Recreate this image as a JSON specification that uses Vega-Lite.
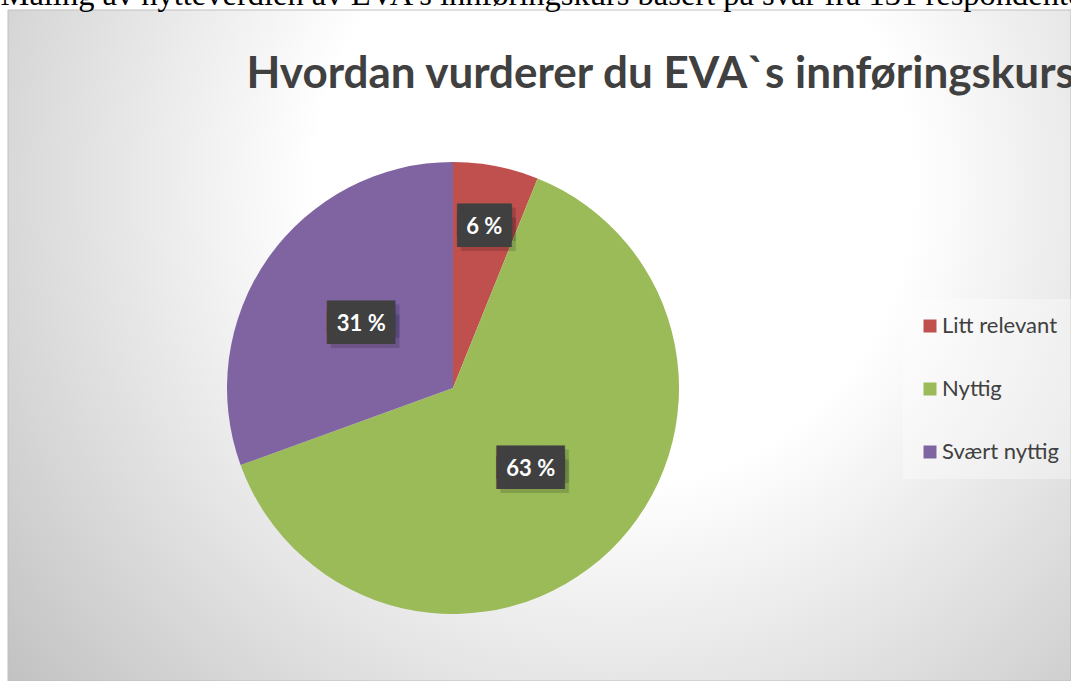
{
  "$schema": "https://vega.github.io/schema/vega-lite/v6.json",
  "width": 1063,
  "height": 671,
  "autosize": {"type": "none"},
  "padding": {"left": 8, "top": 10, "right": 0, "bottom": 0},
  "background": "#ffffff",
  "title": {
    "text": "Måling av nytteverdien av EVA's innføringskurs basert på svar fra 131 respondenter",
    "subtitle": "\u200b\u00a0\u00a0\u00a0\u00a0\u00a0\u00a0\u00a0\u00a0\u00a0\u00a0\u00a0\u00a0\u00a0\u00a0\u00a0\u00a0\u00a0\u00a0\u00a0\u00a0\u00a0\u00a0\u00a0Hvordan vurderer du EVA`s innføringskurs",
    "anchor": "start",
    "frame": "group",
    "dx": -7.5,
    "offset": -87,
    "font": "Liberation Serif",
    "fontSize": 32.5,
    "fontWeight": "normal",
    "color": "#000000",
    "subtitleFont": "Lato",
    "subtitleFontSize": 44,
    "subtitleFontWeight": "bold",
    "subtitleColor": "#404040",
    "subtitlePadding": 41
  },
  "config": {"view": {"stroke": null}},
  "layer": [
    {
      "data": {"values": [{}]},
      "mark": {
        "type": "rect",
        "stroke": "#bfbfbf",
        "strokeWidth": 1,
        "fill": {
          "gradient": "radial",
          "x1": 0.57, "y1": 0.35, "r1": 0,
          "x2": 0.57, "y2": 0.35, "r2": 0.78,
          "stops": [
            {"offset": 0, "color": "#ffffff"},
            {"offset": 0.36, "color": "#ffffff"},
            {"offset": 1, "color": "#bcbcbc"}
          ]
        }
      },
      "encoding": {}
    },
    {
      "data": {
        "values": [
          {"Kategori": "Litt relevant", "n": 8},
          {"Kategori": "Nyttig", "n": 83},
          {"Kategori": "Svært nyttig", "n": 40}
        ]
      },
      "transform": [
        {"joinaggregate": [{"op": "sum", "field": "n", "as": "total"}]},
        {"stack": "n", "groupby": [], "offset": "normalize", "sort": [{"field": "Kategori", "order": "ascending"}], "as": ["t0", "t1"]},
        {"calculate": "(datum.t0 + datum.t1) / 2", "as": "mid"},
        {"calculate": "format(round(100 * datum.n / datum.total), 'd') + ' %'", "as": "label"},
        {"calculate": "length(datum.label) > 3 ? '\u2588\u2588\u2588\u2588' : '\u2595\u2588\u2588\u2588\u258f'", "as": "box"}
      ],
      "layer": [
        {
          "mark": {"type": "arc", "outerRadius": 226, "xOffset": -86.5, "yOffset": 42.5},
          "encoding": {
            "theta": {"field": "t0", "type": "quantitative", "scale": {"domain": [0, 1], "nice": false}},
            "theta2": {"field": "t1"},
            "color": {
              "field": "Kategori",
              "type": "nominal",
              "scale": {"domain": ["Litt relevant", "Nyttig", "Svært nyttig"], "range": ["#C0504D", "#9BBB59", "#8064A2"]},
              "legend": {
                "title": null,
                "orient": "none",
                "legendX": 895,
                "legendY": 289,
                "direction": "vertical",
                "fillColor": "rgba(255,255,255,0.35)",
                "padding": 16,
                "symbolType": "square",
                "symbolSize": 169,
                "symbolStrokeWidth": 0,
                "symbolOpacity": 1,
                "labelFont": "Lato",
                "labelFontSize": 22,
                "labelColor": "#404040",
                "labelOffset": 1,
                "rowPadding": 41
              }
            }
          }
        },
        {
          "transform": [{"filter": "datum.n / datum.total < 0.1"}],
          "encoding": {
            "theta": {"field": "mid", "type": "quantitative"},
            "radius": {"value": 164}
          },
          "layer": [
            {"mark": {"type": "text", "font": "DejaVu Sans Mono", "fontSize": 28.2, "color": "#000000", "opacity": 0.15, "align": "center", "baseline": "middle", "xOffset": -82.5, "yOffset": 46.5, "dy": -5}, "encoding": {"text": {"field": "box"}}},
            {"mark": {"type": "text", "font": "DejaVu Sans Mono", "fontSize": 28.2, "color": "#000000", "opacity": 0.15, "align": "center", "baseline": "middle", "xOffset": -82.5, "yOffset": 46.5, "dy": 5}, "encoding": {"text": {"field": "box"}}},
            {"mark": {"type": "text", "font": "DejaVu Sans Mono", "fontSize": 28.2, "color": "#404040", "align": "center", "baseline": "middle", "xOffset": -86.5, "yOffset": 42.5, "dy": -5}, "encoding": {"text": {"field": "box"}}},
            {"mark": {"type": "text", "font": "DejaVu Sans Mono", "fontSize": 28.2, "color": "#404040", "align": "center", "baseline": "middle", "xOffset": -86.5, "yOffset": 42.5, "dy": 5}, "encoding": {"text": {"field": "box"}}},
            {"mark": {"type": "text", "font": "Lato", "fontSize": 22, "fontWeight": "bold", "color": "#ffffff", "align": "center", "baseline": "middle", "xOffset": -86.5, "yOffset": 42.5}, "encoding": {"text": {"field": "label"}}}
          ]
        },
        {
          "transform": [{"filter": "datum.n / datum.total >= 0.1"}],
          "encoding": {
            "theta": {"field": "mid", "type": "quantitative"},
            "radius": {"value": 112}
          },
          "layer": [
            {"mark": {"type": "text", "font": "DejaVu Sans Mono", "fontSize": 28.2, "color": "#000000", "opacity": 0.15, "align": "center", "baseline": "middle", "xOffset": -82.5, "yOffset": 46.5, "dy": -5}, "encoding": {"text": {"field": "box"}}},
            {"mark": {"type": "text", "font": "DejaVu Sans Mono", "fontSize": 28.2, "color": "#000000", "opacity": 0.15, "align": "center", "baseline": "middle", "xOffset": -82.5, "yOffset": 46.5, "dy": 5}, "encoding": {"text": {"field": "box"}}},
            {"mark": {"type": "text", "font": "DejaVu Sans Mono", "fontSize": 28.2, "color": "#404040", "align": "center", "baseline": "middle", "xOffset": -86.5, "yOffset": 42.5, "dy": -5}, "encoding": {"text": {"field": "box"}}},
            {"mark": {"type": "text", "font": "DejaVu Sans Mono", "fontSize": 28.2, "color": "#404040", "align": "center", "baseline": "middle", "xOffset": -86.5, "yOffset": 42.5, "dy": 5}, "encoding": {"text": {"field": "box"}}},
            {"mark": {"type": "text", "font": "Lato", "fontSize": 22, "fontWeight": "bold", "color": "#ffffff", "align": "center", "baseline": "middle", "xOffset": -86.5, "yOffset": 42.5}, "encoding": {"text": {"field": "label"}}}
          ]
        }
      ]
    }
  ]
}
